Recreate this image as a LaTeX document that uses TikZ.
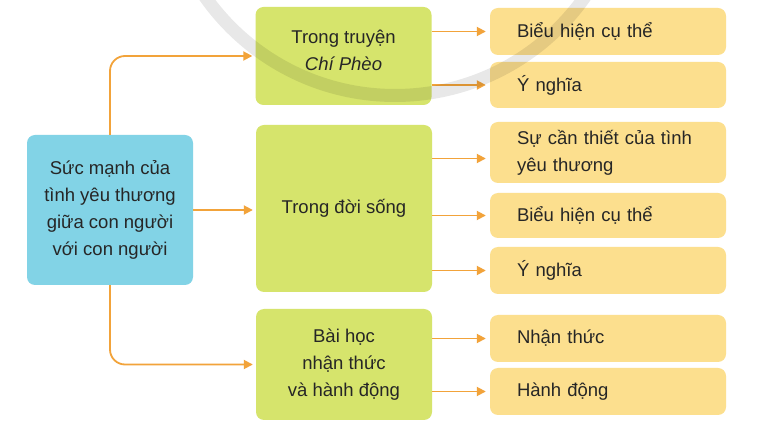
\documentclass[tikz,border=0pt]{standalone}
\usepackage{fontspec}
\setmainfont{Liberation Sans}
\usetikzlibrary{arrows.meta}
\definecolor{bluefill}{HTML}{82D3E6}
\definecolor{greenfill}{HTML}{D6E46C}
\definecolor{orangefill}{HTML}{FCDF8E}
\definecolor{arrowcol}{HTML}{F2A33A}
\definecolor{textcol}{HTML}{262626}
\begin{document}
\begin{tikzpicture}[x=1pt,y=-1pt,
  base/.style={rounded corners=8pt, font=\fontsize{18.5}{27}\selectfont, text=textcol, inner sep=0pt},
  bluebox/.style={base, fill=bluefill, align=center, minimum width=166pt, minimum height=150pt},
  greenbox/.style={base, fill=greenfill, align=center, minimum width=176pt},
  orangebox/.style={base, fill=orangefill, align=left, text width=182pt, inner xsep=27pt, minimum height=47pt},
  txt/.style={font=\fontsize{18.5}{27}\selectfont, text=textcol, align=center, inner sep=0pt},
  conn/.style={draw=arrowcol, line width=1.8pt, -{Triangle[length=9pt,width=9pt]}}]
\useasboundingbox (0,0) rectangle (766,427);
\fill[white] (0,0) rectangle (766,427);

% root
\node[bluebox] (root) at (110,210) {Sức mạnh của\\tình yêu thương\\giữa con người\\với con người};

% green boxes
\node[greenbox, minimum height=98pt] (g1) at (343.5,56) {};
\node[txt] (g1t) at ([yshift=6pt]g1.center) {Trong truyện\\\textit{Chí Phèo}};
\node[greenbox, minimum height=167pt] (g2) at (344,208.5) {Trong đời sống};
\node[greenbox, minimum height=111pt] (g3) at (344,364.5) {Bài học\\nhận thức\\và hành động};

% orange boxes
\node[orangebox] (o1) at (608,31.5) {Biểu hiện cụ thể};
\node[orangebox, minimum height=46pt] (o2) at (608,85) {Ý nghĩa};
\node[orangebox, minimum height=61pt] (o3) at (608,152.5) {Sự cần thiết của tình\\yêu thương};
\node[orangebox, minimum height=45pt] (o4) at (608,215.5) {Biểu hiện cụ thể};
\node[orangebox] (o5) at (608,270.5) {Ý nghĩa};
\node[orangebox] (o6) at (608,338.5) {Nhận thức};
\node[orangebox] (o7) at (608,391.5) {Hành động};

% connectors from root
\coordinate (g1in) at ([xshift=-3pt]g1.west);
\coordinate (g2in) at ([xshift=-3pt]g2.west);
\coordinate (g3in) at ([xshift=-3pt]g3.west);
\draw[conn, rounded corners=15pt] (root.north) -- (root.north |- g1in) -- (g1in);
\draw[conn] (root.east) -- (root.east -| g2in);
\draw[conn, rounded corners=15pt] (root.south) -- (root.south |- g3in) -- (g3in);

% connectors to orange boxes
\coordinate (o3in) at ([xshift=-4pt,yshift=-6pt]o3.west);
\draw[conn] (g1.east |- o1.west) -- ([xshift=-4pt]o1.west);
\draw[conn] (g1.east |- o2.west) -- ([xshift=-4pt]o2.west);
\draw[conn] (g2.east |- o3in) -- (o3in);
\draw[conn] (g2.east |- o4.west) -- ([xshift=-4pt]o4.west);
\draw[conn] (g2.east |- o5.west) -- ([xshift=-4pt]o5.west);
\draw[conn] (g3.east |- o6.west) -- ([xshift=-4pt]o6.west);
\draw[conn] (g3.east |- o7.west) -- ([xshift=-4pt]o7.west);

% faint background arc
\begin{scope}
\clip (0,0) rectangle (766,427);
\draw[black, opacity=0.09, line width=13pt] (395,-136.5) circle[radius=232pt];
\end{scope}
\end{tikzpicture}
\end{document}
